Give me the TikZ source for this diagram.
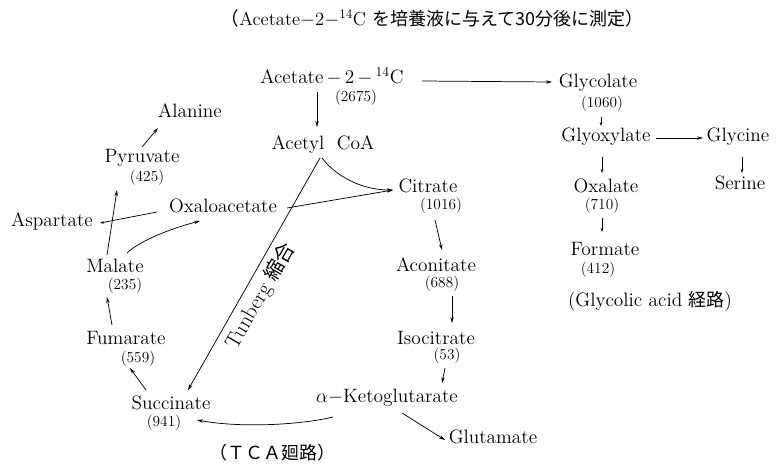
\documentclass[tikz,border=0pt]{standalone}
\usepackage{fontspec}
\newfontfamily\jp{Noto Sans CJK JP}
\usetikzlibrary{arrows.meta}
\begin{document}
\begin{tikzpicture}[x=0.75pt,y=-0.75pt,
  lab/.style={font=\fontsize{14.5}{16}\selectfont, inner sep=0pt, text height=0.7em, text depth=0.05em},
  num/.style={font=\fontsize{11.5}{13}\selectfont, inner sep=0pt, text height=0.7em, text depth=0.05em},
  ttl/.style={font=\fontsize{14}{15}\selectfont, inner sep=0pt},
  arr/.style={-{Stealth[length=4.5pt,width=2.6pt]}, line width=0.55pt},
  sarr/.style={-{Stealth[length=3pt,width=2pt]}, line width=0.55pt},
  ]
\useasboundingbox (0,0) rectangle (776,465);
% title
\node[ttl] (title) at (432,18) {{\jp （}Acetate$-$2$-$\textsuperscript{14}C {\jp\fontsize{13.5}{15}\selectfont を培養液に与えて30分後に測定）}};
% top
\node[lab] (ace) at (332,79) {Acetate\,$-$\,2\,$-$\,\textsuperscript{14}C};
\node[num] (n2675) at (356,97) {(2675)};
\node[lab] (acoa) at (323,145) {Acetyl\ \ CoA};
% TCA right side
\node[lab] (cit) at (428,188) {Citrate};
\node[num] (n1016) at (441,205) {(1016)};
\node[lab] (aco) at (436,267) {Aconitate};
\node[num] (n688) at (442,283) {(688)};
\node[lab] (iso) at (436,340) {Isocitrate};
\node[num] (n53) at (447,355) {(53)};
\node[lab] (akg) at (387,398) {$\alpha-$Ketoglutarate};
\node[lab] (glu) at (493,439) {Glutamate};
% TCA left side
\node[lab] (suc) at (171,405) {Succinate};
\node[num] (n941) at (164,422) {(941)};
\node[lab] (fum) at (126,340) {Fumarate};
\node[num] (n559) at (138,358) {(559)};
\node[lab] (mal) at (115,268) {Malate};
\node[num] (n235) at (125,285) {(235)};
\node[lab] (oaa) at (223,208) {Oxaloacetate};
\node[lab] (asp) at (52,222) {Aspartate};
\node[lab] (pyr) at (142,158) {Pyruvate};
\node[num] (n425) at (147,177) {(425)};
\node[lab] (ala) at (190,113) {Alanine};
\node[ttl] (tca) at (272,453) {\jp\fontsize{13.5}{15}\selectfont （ＴＣＡ廻路）};
\node[lab, font=\fontsize{16}{17}\selectfont, rotate=60] (tun) at (262,297) {Tunberg\ {\jp\fontsize{15}{16}\selectfont 縮合}};
% glycolic acid pathway
\node[lab] (glc) at (598,83) {Glycolate};
\node[num] (n1060) at (602,103) {(1060)};
\node[lab] (glx) at (606,137) {Glyoxylate};
\node[lab] (gly) at (738,137) {Glycine};
\node[lab] (ser) at (740,185) {Serine};
\node[lab] (oxa) at (606,188) {Oxalate};
\node[num] (n710) at (602,205) {(710)};
\node[lab] (frm) at (605,251) {Formate};
\node[num] (n412) at (598,269) {(412)};
\node[lab] (gpath) at (650,302) {(Glycolic acid {\jp\fontsize{13.5}{14}\selectfont 経路})};
% connectors
\draw[arr] ([shift={(-15,13)}]ace.center) -- ([shift={(-6,-18)}]acoa.center);
\draw[arr] ([shift={(90,2)}]ace.center) -- ([shift={(-46,-1)}]glc.center);
\draw[sarr] ([shift={(-1,14)}]n1060.center) -- ([shift={(-5,-11)}]glx.center);
\draw[arr] ([shift={(50,1)}]glx.center) -- ([shift={(-35,1)}]gly.center);
\draw[sarr] ([shift={(4,20)}]gly.center) -- ([shift={(2,-12)}]ser.center);
\draw[sarr] ([shift={(-4,20)}]glx.center) -- ([shift={(-4,-15)}]oxa.center);
\draw[sarr] ([shift={(0,13)}]n710.center) -- ([shift={(-3,-19)}]frm.center);
\draw[arr] ([shift={(-1,13)}]acoa.center) .. controls ([shift={(12,30)}]acoa.center) and ([shift={(-68,2)}]cit.center) .. ([shift={(-35,2)}]cit.center);
\draw[arr] ([shift={(64,0)}]oaa.center) -- ([shift={(-35,2)}]cit.center);
\draw[arr] ([shift={(-3,13)}]acoa.center) -- ([shift={(17,-15)}]suc.center);
\draw[arr] ([shift={(7,32)}]cit.center) -- ([shift={(6,-17)}]aco.center);
\draw[arr] ([shift={(10,13)}]n688.center) -- ([shift={(16,-17)}]iso.center);
\draw[arr] ([shift={(-2,13)}]n53.center) -- ([shift={(55,-15)}]akg.center);
\draw[arr] ([shift={(-54,19)}]akg.center) .. controls ([shift={(-87,27)}]akg.center) and ([shift={(-147,30)}]akg.center) .. ([shift={(33,-2)}]n941.center);
\draw[arr] ([shift={(15,15)}]akg.center) -- ([shift={(-48,1)}]glu.center);
\draw[arr] ([shift={(-25,-15)}]suc.center) -- ([shift={(-8,10)}]n559.center);
\draw[arr] ([shift={(-14,-15)}]fum.center) -- ([shift={(-18,12)}]n235.center);
\draw[arr] ([shift={(-8,-13)}]mal.center) -- ([shift={(-30,13)}]n425.center);
\draw[arr] ([shift={(12,-15)}]mal.center) .. controls ([shift={(22,-25)}]mal.center) and ([shift={(-58,22)}]oaa.center) .. ([shift={(-23,13)}]oaa.center);
\draw[sarr] ([shift={(-66,4)}]oaa.center) -- ([shift={(48,1)}]asp.center);
\draw[arr] ([shift={(0,-11)}]pyr.center) -- ([shift={(-32,15)}]ala.center);
\end{tikzpicture}
\end{document}
